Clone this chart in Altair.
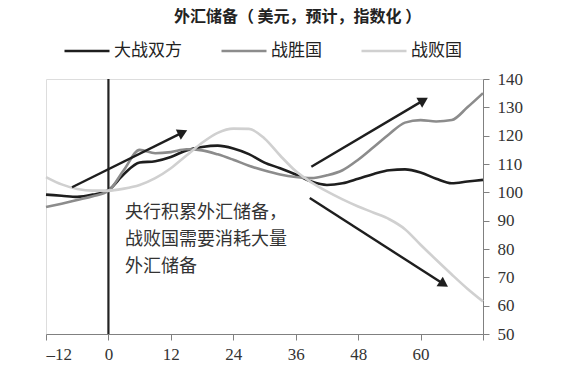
import altair as alt
import pandas as pd

# ---- data ----
months = [-12, -9, -6, -3, 0, 3, 6, 9, 12, 15, 18, 21, 24, 27, 30, 33, 36, 39,
          42, 45, 48, 51, 54, 57, 60, 63, 66, 69, 72]
both = [99.2, 98.8, 98.4, 99.2, 100.8, 106.5, 110.5, 111.0, 112.5, 114.8, 116.0,
        116.5, 115.5, 113.5, 110.5, 108.5, 106.3, 103.8, 102.6, 103.2, 104.8, 106.5,
        107.8, 108.1, 107.0, 104.8, 103.2, 103.8, 104.4]
victors = [94.8, 96.0, 97.3, 98.6, 100.5, 108.0, 115.0, 113.8, 114.2, 115.2, 114.8,
           113.4, 111.5, 109.4, 107.7, 106.3, 105.4, 105.0, 106.0, 107.8, 111.5, 116.0,
           120.6, 124.6, 125.5, 125.0, 125.5, 130.0, 135.0]
losers = [105.4, 102.8, 101.2, 100.6, 100.6, 101.3, 102.6, 105.0, 108.5, 113.0, 117.5,
          121.0, 122.5, 122.4, 119.0, 113.0, 107.5, 103.5, 100.3, 97.5, 95.0, 92.8,
          90.5, 87.0, 81.5, 76.2, 71.0, 66.0, 61.5]
series_names = ["大战双方", "战胜国", "战败国"]
x_ticks = [-12, 0, 12, 24, 36, 48, 60, 72]
y_ticks = [50, 60, 70, 80, 90, 100, 110, 120, 130, 140]

# arrows (start / end in data units)
arrow_x0 = [-7.0, 39.0, 38.7]
arrow_y0 = [101.8, 109.0, 98.0]
arrow_x1 = [14.0, 60.3, 64.2]
arrow_y1 = [120.9, 132.2, 67.9]
arrow_angle = [64, 60, 123]

note_text = ["央行积累外汇储备，", "战败国需要消耗大量", "外汇储备"]

title_text = "外汇储备（ 美元，预计，指数化 ）"

# ---- tables ----
rows = []
for name, vals in zip(series_names, [both, victors, losers]):
    for m, v in zip(months, vals):
        rows.append({"series": name, "month": m, "value": v})
df = pd.DataFrame(rows)

arrows = pd.DataFrame({"x0": arrow_x0, "y0": arrow_y0, "x1": arrow_x1,
                       "y1": arrow_y1, "angle": arrow_angle})
zero_line = pd.DataFrame({"month": [0], "lo": [50], "hi": [140]})
note = pd.DataFrame({"month": [3.2], "value": [95.8], "text": [note_text]})

colors = ["#1e1e1e", "#8c8c8c", "#d0d0d0"]
CJK = "Noto Sans CJK SC"
SERIF = "Liberation Serif"

xscale = alt.Scale(domain=[-12, 72], nice=False, zero=False)
yscale = alt.Scale(domain=[50, 140], nice=False, zero=False)

x_axis = alt.Axis(values=x_ticks, title=None, grid=False, labelOverlap=False,
                  labelExpr="datum.value == 72 ? '' : (datum.value < 0 ? '–' + abs(datum.value) : datum.value)",
                  labelFont=SERIF, labelFontSize=17, labelColor="#333",
                  tickColor="#808080", domainColor="#808080", tickSize=6, labelPadding=6)
y_axis = alt.Axis(values=y_ticks, title=None, grid=False, orient="right", labelOverlap=False,
                  labelFont=SERIF, labelFontSize=17, labelColor="#333",
                  tickColor="#808080", domainColor="#808080", tickSize=6, labelPadding=8)

lines = alt.Chart(df).mark_line(strokeWidth=2.6, interpolate="monotone").encode(
    x=alt.X("month:Q", scale=xscale, axis=x_axis),
    y=alt.Y("value:Q", scale=yscale, axis=y_axis),
    color=alt.Color("series:N",
                    scale=alt.Scale(domain=series_names, range=colors),
                    sort=series_names,
                    legend=alt.Legend(orient="none", legendX=17, legendY=-52,
                                      direction="horizontal", title=None,
                                      symbolType="stroke", symbolSize=2025,
                                      symbolStrokeWidth=2.6, labelFont=CJK,
                                      labelFontSize=17, labelColor="#222",
                                      labelOffset=3, columnPadding=34,
                                      gridAlign="none")),
    order=alt.Order("month:Q"),
)

vline = alt.Chart(zero_line).mark_rule(color="#222", strokeWidth=2.2).encode(
    x=alt.X("month:Q", scale=xscale, axis=x_axis),
    y=alt.Y("lo:Q", scale=yscale, axis=y_axis),
    y2="hi:Q",
)

arrow_lines = alt.Chart(arrows).mark_rule(color="#1e1e1e", strokeWidth=2.4).encode(
    x=alt.X("x0:Q", scale=xscale, axis=x_axis),
    y=alt.Y("y0:Q", scale=yscale, axis=y_axis),
    x2="x1:Q",
    y2="y1:Q",
)

arrow_heads = alt.Chart(arrows).mark_point(shape="triangle", filled=True,
                                           color="#1e1e1e", size=130, opacity=1).encode(
    x=alt.X("x1:Q", scale=xscale, axis=x_axis),
    y=alt.Y("y1:Q", scale=yscale, axis=y_axis),
    angle=alt.Angle("angle:Q", scale=None),
)

note_mark = alt.Chart(note).mark_text(align="left", baseline="top", font=CJK,
                                      fontSize=18, lineHeight=27, color="#333").encode(
    x=alt.X("month:Q", scale=xscale, axis=x_axis),
    y=alt.Y("value:Q", scale=yscale, axis=y_axis),
    text="text",
)

chart = alt.layer(vline, lines, arrow_lines, arrow_heads, note_mark).properties(
    width=437, height=255,
    title=alt.TitleParams(title_text, font=CJK, fontSize=16, fontWeight="bold",
                          color="#222", anchor="middle", dx=33, offset=2),
    autosize=alt.AutoSizeParams(type="none"),
    padding={"left": 46, "top": 79, "right": 83, "bottom": 42},
).configure_view(stroke="#999", strokeWidth=1).configure(background="white")

chart.save("out.html", embed_options={"renderer": "svg", "actions": False})
